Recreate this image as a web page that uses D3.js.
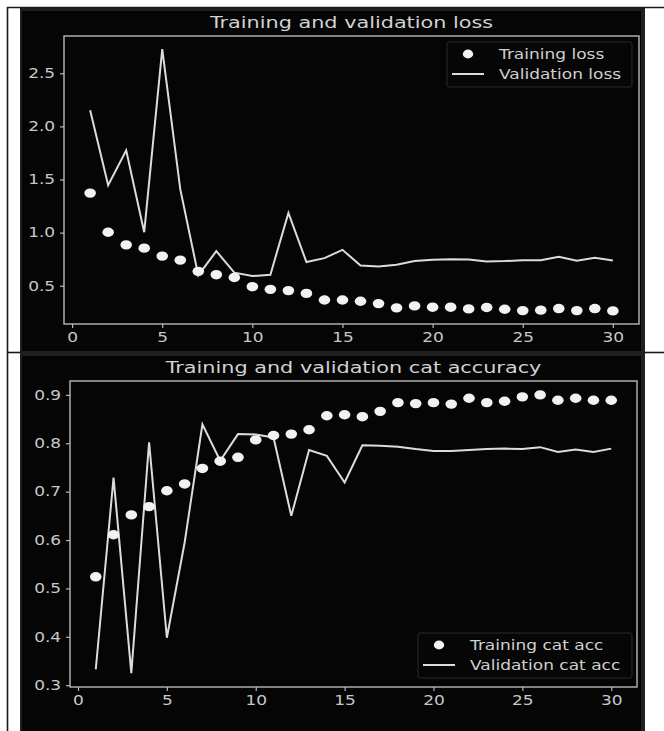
<!DOCTYPE html>
<html>
<head>
<meta charset="utf-8">
<script src="https://cdn.jsdelivr.net/npm/d3@7"></script>
<style>
  body { margin: 0; background: #ffffff; }
  svg { display: block; }
  text { font-family: "DejaVu Sans", sans-serif; }
</style>
</head>
<body>
<div id="my_dataviz"></div>
<script>
var width = 664
var height = 731

// epochs 1..30
var epochs = d3.range(1, 31)

// loss values
var trainLoss = [1.372, 1.004, 0.885, 0.854, 0.779, 0.741, 0.635, 0.604, 0.578, 0.491,
    0.466, 0.454, 0.428, 0.366, 0.366, 0.354, 0.332, 0.292, 0.310, 0.298,
    0.298, 0.282, 0.295, 0.279, 0.266, 0.270, 0.285, 0.266, 0.285, 0.263]
var valLoss = [2.153, 1.447, 1.775, 1.004, 2.728, 1.410, 0.597, 0.826, 0.623, 0.591,
    0.604, 1.185, 0.723, 0.760, 0.838, 0.691, 0.682, 0.697, 0.732, 0.744,
    0.750, 0.747, 0.728, 0.732, 0.741, 0.741, 0.772, 0.735, 0.763, 0.738]

// categorical accuracy
var trainAcc = [0.524, 0.611, 0.652, 0.669, 0.702, 0.716, 0.748, 0.763, 0.771, 0.807,
    0.816, 0.819, 0.828, 0.857, 0.859, 0.855, 0.866, 0.884, 0.882, 0.884,
    0.881, 0.893, 0.884, 0.887, 0.896, 0.900, 0.889, 0.893, 0.889, 0.889]
var valAcc = [0.333, 0.729, 0.325, 0.802, 0.398, 0.595, 0.839, 0.764, 0.819, 0.818,
    0.812, 0.650, 0.786, 0.774, 0.719, 0.796, 0.795, 0.793, 0.788, 0.784,
    0.784, 0.786, 0.788, 0.789, 0.788, 0.792, 0.782, 0.787, 0.782, 0.789]

var xTicks = [0, 5, 10, 15, 20, 25, 30]
var lossTicks = [0.5, 1.0, 1.5, 2.0, 2.5]
var accTicks = [0.3, 0.4, 0.5, 0.6, 0.7, 0.8, 0.9]

// the screenshot is stretched sideways, so the text is too
var stretch = "scale(1.26,1)"

var svg = d3.select("#my_dataviz")
    .append("svg")
    .attr("width", width)
    .attr("height", height)

// dark screenshot frames
svg.append("rect").attr("x", 20).attr("y", 7).attr("width", 625).attr("height", 724).attr("fill", "#221f20")
svg.append("rect").attr("x", 22).attr("y", 11).attr("width", 619).attr("height", 340).attr("fill", "#050505")
svg.append("rect").attr("x", 22).attr("y", 356).attr("width", 619).attr("height", 375).attr("fill", "#050505")

// table borders
svg.append("line").attr("x1", 7.5).attr("x2", 7.5).attr("y1", 7).attr("y2", 731).attr("stroke", "#1a1a1a").attr("stroke-width", 1.6)
svg.append("line").attr("x1", 7).attr("x2", 664).attr("y1", 7.5).attr("y2", 7.5).attr("stroke", "#1a1a1a").attr("stroke-width", 1.6)
svg.append("line").attr("x1", 7).attr("x2", 22).attr("y1", 352.5).attr("y2", 352.5).attr("stroke", "#1a1a1a").attr("stroke-width", 1.6)
svg.append("line").attr("x1", 643).attr("x2", 664).attr("y1", 352.5).attr("y2", 352.5).attr("stroke", "#1a1a1a").attr("stroke-width", 1.6)

function drawPanel(opt) {
    var g = svg.append("g")

    // matplotlib style 5% margins
    var x = d3.scaleLinear().domain([-0.45, 31.45]).range([opt.left, opt.right])
    var lo = d3.min(opt.train.concat(opt.val)), hi = d3.max(opt.train.concat(opt.val))
    var pad = (hi - lo) * 0.05
    var y = d3.scaleLinear().domain([lo - pad, hi + pad]).range([opt.bottom, opt.top])

    // title
    g.append("text")
        .attr("transform", "translate(" + ((opt.left + opt.right) / 2) + "," + (opt.top - 8) + ") " + stretch)
        .attr("text-anchor", "middle")
        .attr("fill", "#d2d2d2")
        .style("font-size", "16.5px")
        .text(opt.title)

    // axes
    var xAxis = g.append("g")
        .attr("transform", "translate(0," + opt.bottom + ")")
        .call(d3.axisBottom(x).tickValues(xTicks).tickSize(4).tickPadding(4).tickFormat(d3.format("d")))
    var yAxis = g.append("g")
        .attr("transform", "translate(" + opt.left + ",0)")
        .call(d3.axisLeft(y).tickValues(opt.yTicks).tickSize(4).tickPadding(3).tickFormat(d3.format(".1f")))
    ;[xAxis, yAxis].forEach(function (a) {
        a.select(".domain").remove()
        a.selectAll("line").attr("stroke", "#b8b8b8").attr("stroke-width", 1.2)
        a.selectAll("text")
            .attr("transform", stretch)
            .attr("fill", "#c8c8c8")
            .style("font-size", "13.5px")
            .style("font-family", "DejaVu Sans")
    })

    // frame
    g.append("rect")
        .attr("x", opt.left).attr("y", opt.top)
        .attr("width", opt.right - opt.left).attr("height", opt.bottom - opt.top)
        .attr("fill", "none")
        .attr("stroke", "#b8b8b8")
        .attr("stroke-width", 1.4)

    // validation line
    var line = d3.line()
        .x(function (d, i) { return x(epochs[i]) })
        .y(function (d) { return y(d) })
    g.append("path")
        .datum(opt.val)
        .attr("d", line)
        .attr("fill", "none")
        .attr("stroke", "#dcdcdc")
        .attr("stroke-width", 2)

    // training dots
    g.selectAll("ellipse.dot")
        .data(opt.train)
        .enter()
        .append("ellipse")
        .attr("class", "dot")
        .attr("cx", function (d, i) { return x(epochs[i]) })
        .attr("cy", function (d) { return y(d) })
        .attr("rx", 5.8)
        .attr("ry", 4.7)
        .attr("fill", "#f2f2f2")

    // legend
    var lg = g.append("g").attr("transform", "translate(" + opt.legX + "," + opt.legY + ")")
    lg.append("rect")
        .attr("width", opt.legW).attr("height", 45)
        .attr("rx", 2)
        .attr("fill", "#060606")
        .attr("stroke", "#2a2a2a")
    lg.append("ellipse").attr("cx", 21).attr("cy", 12).attr("rx", 5.2).attr("ry", 4.4).attr("fill", "#f2f2f2")
    lg.append("line").attr("x1", 5).attr("x2", 37).attr("y1", 32).attr("y2", 32).attr("stroke", "#dcdcdc").attr("stroke-width", 2)
    lg.append("text").attr("transform", "translate(52,17) " + stretch).attr("fill", "#d0d0d0").style("font-size", "13.5px").text(opt.names[0])
    lg.append("text").attr("transform", "translate(52,37) " + stretch).attr("fill", "#d0d0d0").style("font-size", "13.5px").text(opt.names[1])
}

drawPanel({
    title: "Training and validation loss",
    left: 64, right: 639, top: 36, bottom: 324,
    train: trainLoss, val: valLoss, yTicks: lossTicks,
    names: ["Training loss", "Validation loss"],
    legX: 447, legY: 42, legW: 185
})

drawPanel({
    title: "Training and validation cat accuracy",
    left: 70, right: 637, top: 381, bottom: 687,
    train: trainAcc, val: valAcc, yTicks: accTicks,
    names: ["Training cat acc", "Validation cat acc"],
    legX: 418, legY: 633, legW: 214
})
</script>
</body>
</html>
